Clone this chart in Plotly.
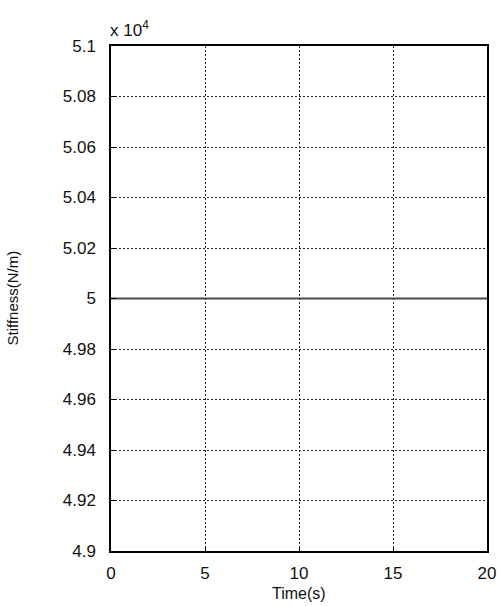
import plotly.graph_objects as go

# Data
time_s = [0, 5, 10, 15, 20]
stiffness = [50000, 50000, 50000, 50000, 50000]

x_ticks = [0, 5, 10, 15, 20]
x_ticklabels = ["0", "5", "10", "15", "20"]
y_ticks = [49000, 49200, 49400, 49600, 49800, 50000, 50200, 50400, 50600, 50800, 51000]
y_ticklabels = ["4.9", "4.92", "4.94", "4.96", "4.98", "5", "5.02", "5.04", "5.06", "5.08", "5.1"]

FONT = "Liberation Sans, Arial, sans-serif"

fig = go.Figure()
fig.add_trace(go.Scatter(
    x=time_s, y=stiffness, mode="lines",
    line=dict(color="#4a4a4a", width=2),
    showlegend=False,
))

axis_common = dict(
    showline=True, linecolor="black", linewidth=1.5, mirror=True,
    showgrid=True, gridcolor="#222", gridwidth=1, griddash="2px,2px",
    ticks="inside", ticklen=5, tickcolor="black",
    zeroline=False, automargin=False,
    tickfont=dict(family=FONT, size=17, color="#111"),
)

fig.update_xaxes(
    range=[0, 20], tickvals=x_ticks, ticktext=x_ticklabels,
    ticklabelstandoff=6,
    **axis_common,
)
fig.update_yaxes(
    range=[49000, 51000], tickvals=y_ticks, ticktext=y_ticklabels,
    ticklabelstandoff=10,
    **axis_common,
)

fig.add_annotation(
    xref="paper", yref="paper", x=0.5, y=0, xanchor="center", yanchor="middle",
    yshift=-42, text="Time(s)", showarrow=False,
    font=dict(family=FONT, size=16, color="#111"),
)
fig.add_annotation(
    xref="paper", yref="paper", x=0, y=0.5, xanchor="center", yanchor="middle",
    xshift=-99, yshift=0, textangle=-90, text="Stiffness(N/m)", showarrow=False,
    font=dict(family=FONT, size=15, color="#111"),
)
fig.add_annotation(
    xref="paper", yref="paper", x=0, y=1, xanchor="left", yanchor="bottom",
    yshift=4, xshift=-3,
    text="x 10<sup>4</sup>", showarrow=False,
    font=dict(family=FONT, size=17, color="#111"),
)

fig.update_layout(
    width=502, height=606,
    margin=dict(l=111, r=15, t=46, b=55),
    paper_bgcolor="white", plot_bgcolor="white",
    font=dict(family=FONT),
)

fig.write_html(
    "out.html",
    config={"displayModeBar": False},
    post_script="document.body.style.margin='0';document.body.style.padding='0';document.body.style.overflow='hidden';",
)
